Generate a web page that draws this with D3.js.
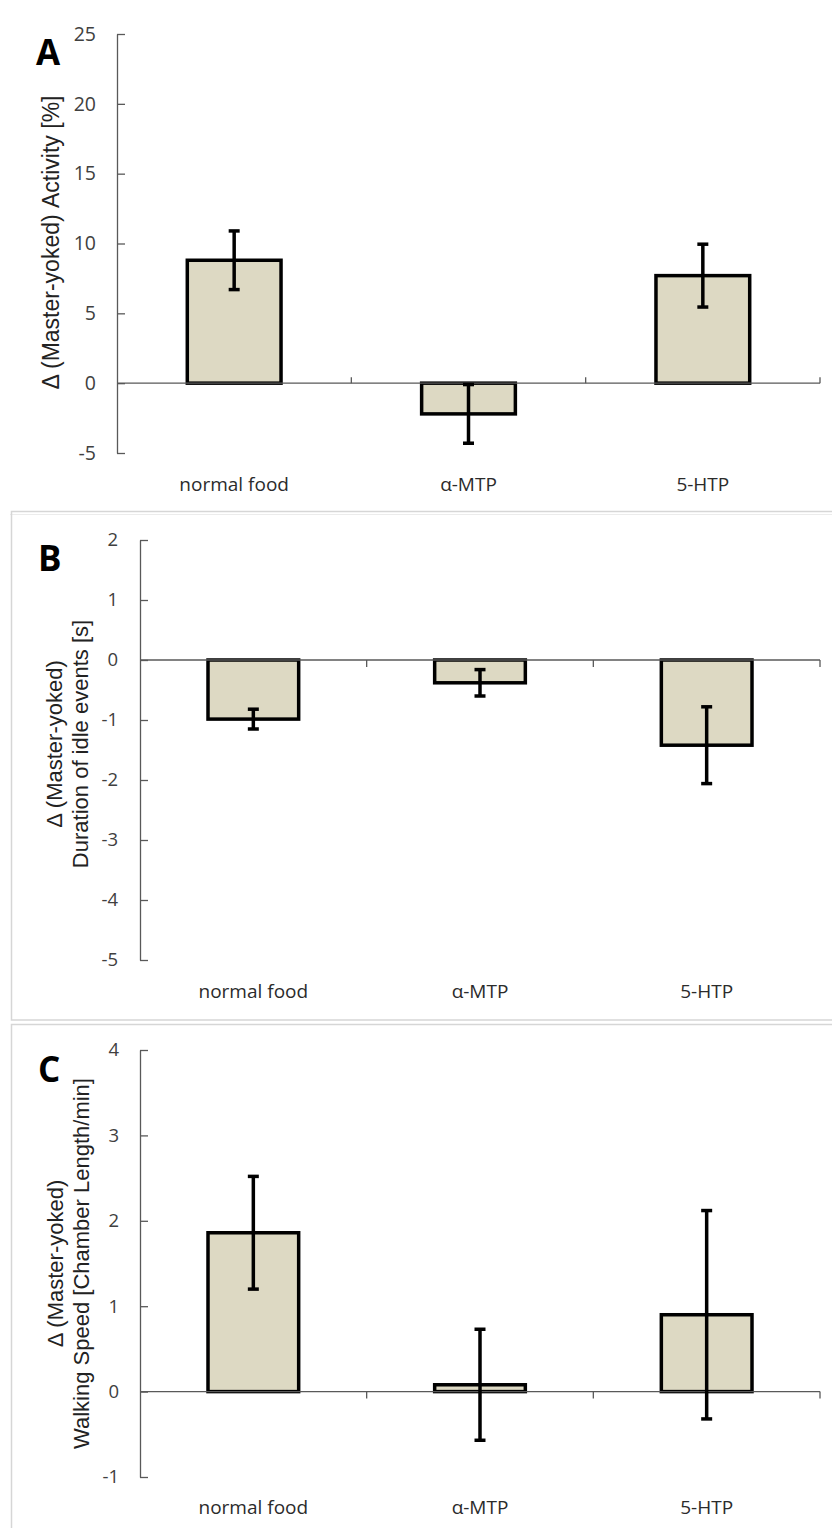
<!DOCTYPE html>
<html>
<head>
<meta charset="utf-8">
<script src="https://cdn.jsdelivr.net/npm/d3@7"></script>
<style>
  html, body { margin: 0; padding: 0; background: #fff; }
  svg { display: block; }
</style>
</head>
<body>
<div id="chart"></div>
<script>
// values
const categories = ['normal food', 'α-MTP', '5-HTP'];

const activityMean = [8.8, -2.2, 7.7];
const activityErr = [2.1, 2.1, 2.25];
const activityTicks = [-5, 0, 5, 10, 15, 20, 25];

const idleMean = [-0.985, -0.38, -1.42];
const idleErr = [0.165, 0.22, 0.64];
const idleTicks = [-5, -4, -3, -2, -1, 0, 1, 2];

const speedMean = [1.86, 0.08, 0.9];
const speedErr = [0.66, 0.65, 1.22];
const speedTicks = [-1, 0, 1, 2, 3, 4];

const width = 832, height = 1528;

const svg = d3.select('#chart').append('svg')
  .attr('width', width)
  .attr('height', height);

// light grey frames around panels B and C
svg.append('line')
  .attr('x1', 10).attr('x2', width).attr('y1', 514.5).attr('y2', 514.5)
  .attr('stroke', '#ececec').attr('stroke-width', 1);
svg.append('rect')
  .attr('x', 11.5).attr('y', 511.5).attr('width', width).attr('height', 508.5)
  .attr('fill', 'none').attr('stroke', '#d6d6d6').attr('stroke-width', 1.5);
svg.append('rect')
  .attr('x', 11.5).attr('y', 1024.5).attr('width', width).attr('height', 600)
  .attr('fill', 'none').attr('stroke', '#d6d6d6').attr('stroke-width', 1.5);

function drawPanel(p) {
  const g = svg.append('g');

  const y = d3.scaleLinear().domain(p.domain).range([p.yBottom, p.yTop]);
  const x = d3.scaleBand().domain(categories).range([p.xLeft, p.xRight]).padding(0);
  const step = x.step();

  // y axis, ticks pointing inward; plain hyphen for negatives like the original
  const yAxis = d3.axisLeft(y)
    .tickValues(p.ticks)
    .tickSizeInner(-8)
    .tickSizeOuter(0)
    .tickPadding(p.tickPad)
    .tickFormat(d => String(d));
  const ya = g.append('g')
    .attr('transform', `translate(${p.xLeft},0)`)
    .call(yAxis);
  ya.select('.domain').attr('stroke', '#595959').attr('stroke-width', 1.3);
  ya.selectAll('.tick line').attr('stroke', '#595959').attr('stroke-width', 1.3);
  ya.selectAll('.tick text')
    .attr('font-family', '"Open Sans", sans-serif')
    .attr('font-size', p.tickFont)
    .attr('fill', '#404040');

  // bars
  const data = categories.map((c, i) => ({ c, m: p.mean[i], e: p.err[i] }));
  const bw = step * 0.4;

  g.selectAll('rect.bar')
    .data(data)
    .enter()
    .append('rect')
    .attr('class', 'bar')
    .attr('x', d => x(d.c) + step * 0.3)
    .attr('width', bw)
    .attr('y', d => y(Math.max(0, d.m)))
    .attr('height', d => Math.abs(y(d.m) - y(0)))
    .attr('fill', '#ddd9c3')
    .attr('stroke', '#000')
    .attr('stroke-width', 3.5);

  // category axis along zero
  g.append('line')
    .attr('x1', p.xLeft).attr('x2', p.xRight)
    .attr('y1', y(0)).attr('y2', y(0))
    .attr('stroke', '#595959').attr('stroke-width', 1.3);
  g.selectAll('line.ctick')
    .data(categories)
    .enter()
    .append('line')
    .attr('class', 'ctick')
    .attr('x1', d => x(d) + step).attr('x2', d => x(d) + step)
    .attr('y1', y(0)).attr('y2', y(0) + p.catTick)
    .attr('stroke', '#595959').attr('stroke-width', 1.3);

  // error bars
  const eb = g.selectAll('g.err')
    .data(data)
    .enter()
    .append('g')
    .attr('class', 'err');
  const cx = d => x(d.c) + step / 2;
  eb.append('line')
    .attr('x1', cx).attr('x2', cx)
    .attr('y1', d => y(d.m + d.e)).attr('y2', d => y(d.m - d.e))
    .attr('stroke', '#000').attr('stroke-width', 3.5);
  [1, -1].forEach(s => {
    eb.append('line')
      .attr('x1', d => cx(d) - 5.5).attr('x2', d => cx(d) + 5.5)
      .attr('y1', d => y(d.m + s * d.e)).attr('y2', d => y(d.m + s * d.e))
      .attr('stroke', '#000').attr('stroke-width', 3.5);
  });

  // category labels
  g.selectAll('text.cat')
    .data(categories)
    .enter()
    .append('text')
    .attr('class', 'cat')
    .attr('x', d => x(d) + step / 2)
    .attr('y', p.catY)
    .attr('text-anchor', 'middle')
    .attr('font-family', '"Open Sans", sans-serif')
    .attr('font-size', 19)
    .attr('fill', '#2b2b2b')
    .text(d => d);

  // y title (one or two rotated lines)
  const cy = (p.yTop + p.yBottom) / 2 + p.titleShift;
  p.title.forEach((t, i) => {
    g.append('text')
      .attr('transform', `translate(${p.titleX[i]},${cy}) rotate(-90)`)
      .attr('text-anchor', 'middle')
      .attr('font-family', '"Liberation Sans", Arial, sans-serif')
      .attr('font-size', p.titleFont)
      .attr('fill', '#222')
      .text(t);
  });

  // panel letter
  g.append('text')
    .attr('x', p.letterX).attr('y', p.letterY)
    .attr('font-family', '"Open Sans", sans-serif')
    .attr('font-weight', 'bold')
    .attr('font-size', 35)
    .attr('fill', '#000')
    .text(p.letter);
}

drawPanel({
  letter: 'A', letterX: 36, letterY: 65,
  mean: activityMean, err: activityErr, ticks: activityTicks,
  domain: [-5, 25], yTop: 34, yBottom: 453,
  xLeft: 117, xRight: 820,
  tickPad: 21, tickFont: 19.5, catTick: -6, catY: 491,
  title: ['Δ (Master-yoked) Activity [%]'], titleX: [59], titleFont: 23, titleShift: -1
});

drawPanel({
  letter: 'B', letterX: 38, letterY: 571,
  mean: idleMean, err: idleErr, ticks: idleTicks,
  domain: [-5, 2], yTop: 540, yBottom: 960,
  xLeft: 140, xRight: 820,
  tickPad: 22, tickFont: 18.5, catTick: 7, catY: 998,
  title: ['Δ (Master-yoked)', 'Duration of idle events [s]'], titleX: [62, 88], titleFont: 22, titleShift: -6
});

drawPanel({
  letter: 'C', letterX: 38, letterY: 1082,
  mean: speedMean, err: speedErr, ticks: speedTicks,
  domain: [-1, 4], yTop: 1050, yBottom: 1477,
  xLeft: 140, xRight: 820,
  tickPad: 21, tickFont: 18.5, catTick: 7, catY: 1514,
  title: ['Δ (Master-yoked)', 'Walking Speed [Chamber Length/min]'], titleX: [63, 89], titleFont: 22, titleShift: 0
});
</script>
</body>
</html>
